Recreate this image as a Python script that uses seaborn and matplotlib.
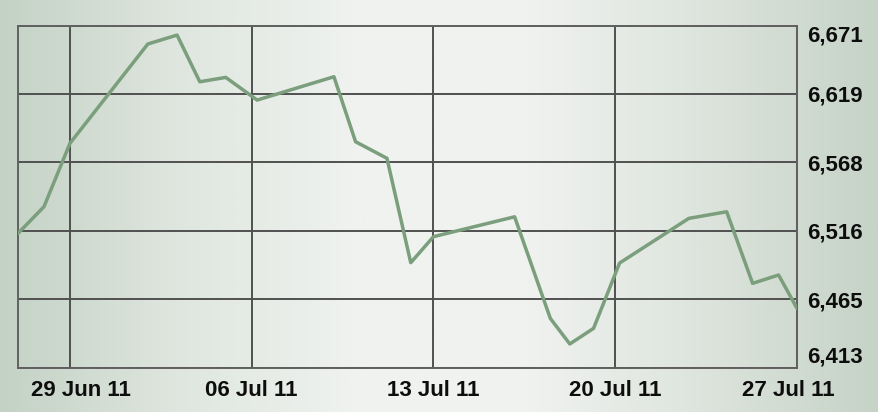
import numpy as np
import matplotlib
matplotlib.use('Agg')
import matplotlib.pyplot as plt
import matplotlib.dates as mdates
import matplotlib.transforms as mtransforms
from matplotlib.colors import LinearSegmentedColormap
import pandas as pd
import seaborn as sns

dates = ['2011-06-27', '2011-06-28', '2011-06-29',
         '2011-07-02', '2011-07-03 03:00', '2011-07-04', '2011-07-05', '2011-07-06 05:00',
         '2011-07-09 04:00', '2011-07-10', '2011-07-11 05:00', '2011-07-12 03:00', '2011-07-13',
         '2011-07-16 03:00', '2011-07-17 12:00', '2011-07-18 06:00', '2011-07-19 04:00', '2011-07-20 04:00',
         '2011-07-22 20:00', '2011-07-24 07:00', '2011-07-25 07:00', '2011-07-26 07:00', '2011-07-27']
values = [6514.3, 6534.4, 6582.2,
          6657.1, 6663.8, 6628.6, 6631.9, 6614.8,
          6632.4, 6583.4, 6570.9, 6492.2, 6511.8,
          6526.8, 6450.2, 6430.9, 6442.7, 6491.9,
          6525.6, 6530.6, 6476.6, 6482.9, 6457.8]
xticks = ['2011-06-29', '2011-07-06', '2011-07-13', '2011-07-20', '2011-07-27']
ymin, ymax = 6413, 6671

df = pd.DataFrame({'date': pd.to_datetime(dates, format='mixed'), 'value': values})

sns.set_style('white')
plt.rcParams['font.family'] = ['Liberation Sans', 'DejaVu Sans']

fig = plt.figure(figsize=(8.79, 4.12), dpi=100)

# background gradient over whole figure
bg = fig.add_axes([0, 0, 1, 1], zorder=-1)
cmap = LinearSegmentedColormap.from_list('bg', ['#c4d2c5', '#dfe6df', '#eff2ef', '#f0f2f0', '#dde4dd', '#c6d3c7'])
grad = np.linspace(0, 1, 400).reshape(1, -1)
bg.imshow(grad, aspect='auto', cmap=cmap, extent=[0, 1, 0, 1])
bg.axis('off')

ax = fig.add_axes([0.0205, 0.1075, 0.8862, 0.8305])
ax.set_facecolor('none')
sns.lineplot(data=df, x='date', y='value', ax=ax, color='#7b9e7c', linewidth=2.5, zorder=3)

ax.set_xlim(pd.Timestamp('2011-06-27'), pd.Timestamp('2011-07-27'))
ax.set_ylim(ymin, ymax)
ax.set_xticks(pd.to_datetime(xticks))
ax.xaxis.set_major_formatter(mdates.DateFormatter('%d %b %y'))
yt = np.linspace(ymin, ymax, 6)
ax.set_yticks(yt)
ax.set_yticklabels(['{:,.0f}'.format(v) for v in yt])
ax.yaxis.tick_right()
ax.grid(True, color='#505050', linewidth=1.4)
for s in ax.spines.values():
    s.set_visible(True)
    s.set_color('#606060')
    s.set_linewidth(1.4)
ax.tick_params(axis='both', length=0, labelsize=16, colors='#0d0d0d')
ax.tick_params(axis='x', pad=9)
ax.tick_params(axis='y', pad=7)
for lab in ax.get_xticklabels() + ax.get_yticklabels():
    lab.set_fontweight('bold')
ylabs = ax.get_yticklabels()
ylabs[0].set_va('bottom')
ylabs[-1].set_va('top')
xlabs = ax.get_xticklabels()
xlabs[0].set_transform(xlabs[0].get_transform() + mtransforms.ScaledTranslation(11 / 100, 0, fig.dpi_scale_trans))
xlabs[-1].set_transform(xlabs[-1].get_transform() + mtransforms.ScaledTranslation(-9 / 100, 0, fig.dpi_scale_trans))
ax.set_xlabel('')
ax.set_ylabel('')

plt.savefig('out.png', dpi=100)
